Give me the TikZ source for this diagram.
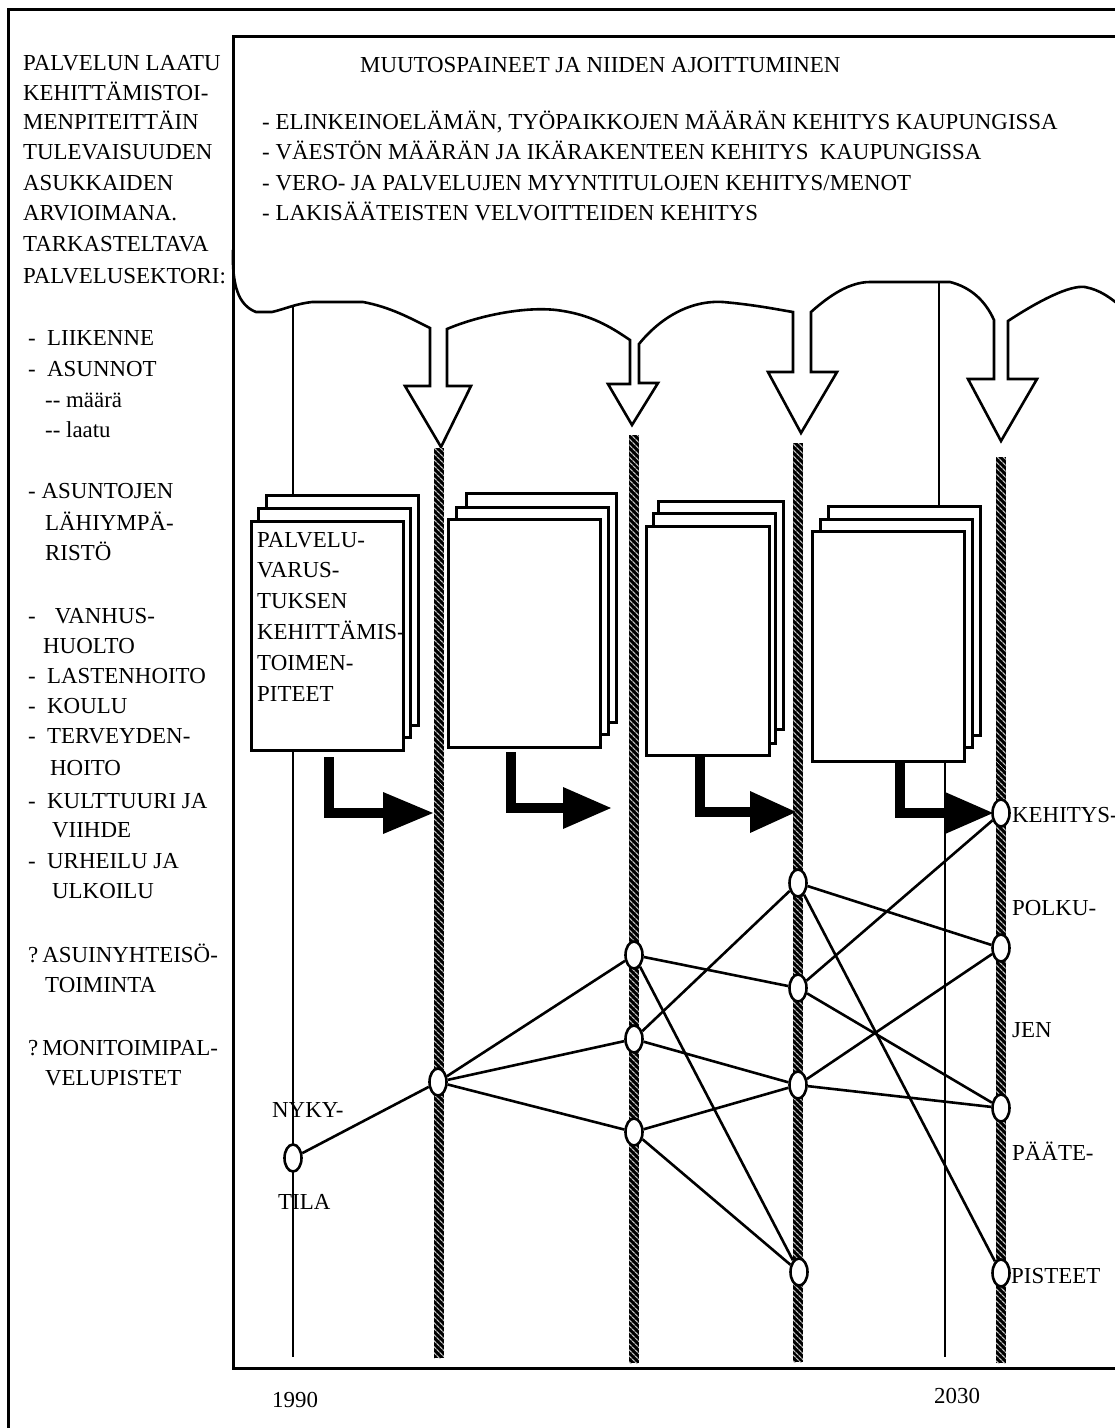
\documentclass[tikz,border=0pt]{standalone}
\usepackage{fontspec}
\setmainfont{Liberation Serif}
\usetikzlibrary{shapes.geometric,patterns.meta}
\begin{document}
\begin{tikzpicture}[x=1pt,y=-1pt,
  txt/.style={inner sep=0pt, anchor=base west, font=\fontsize{22.9}{27}\selectfont},
  frame/.style={line width=3pt},
  cloud/.style={line width=2.6pt, line join=miter},
  sheet/.style={draw, fill=white, line width=3pt},
  timeline/.style={line width=2.2pt},
  bar/.style={fill=black, postaction={pattern={Lines[angle=-45,distance=4pt,line width=1.3pt]}, pattern color=black!25}},
  state/.style={draw, fill=white, ellipse, line width=2.6pt, minimum width=17pt, minimum height=27pt, inner sep=0pt},
  link/.style={line width=2.6pt},
  flow/.style={line width=10pt, line join=miter},
]
\useasboundingbox (0,0) rectangle (1115,1428);

% outer and inner frames
\draw[frame] (1130,9) -- (8,9) -- (8,1440);
\draw[frame] (1130,36) -- (233,36) -- (233,1368) -- (1130,1368);

% time lines 1990 and 2030
\draw[timeline] (293,306) -- (293,1357);
\draw[timeline] (939,282) -- (939,506);
\draw[timeline] (945,761) -- (945,1357);

% the pressure cloud with its four hollow arrows
\draw[cloud] (233,250) .. controls (232,285) and (238,305) .. (256,312) -- (272,312)
  .. controls (285,309) and (295,304) .. (312,302) -- (363,302)
  .. controls (390,307) and (410,318) .. (430,328)
  -- (430,386) -- (405,386) -- (441,447) -- (471,386) -- (447,386) -- (447,329)
  .. controls (480,315) and (530,305) .. (563,311) .. controls (595,316) and (615,330) .. (630,340)
  -- (630,384) -- (608,384) -- (632,425) -- (658,383) -- (639,383) -- (639,344)
  .. controls (660,318) and (690,300) .. (723,302) .. controls (757,305) and (780,310) .. (793,312)
  -- (793,372) -- (768,372) -- (801,433) -- (837,372) -- (811,372) -- (811,312)
  .. controls (830,295) and (850,282) .. (870,282) -- (950,282)
  .. controls (970,287) and (985,300) .. (994,320)
  -- (994,379) -- (968,379) -- (1001,441) -- (1037,379) -- (1008,379) -- (1008,321)
  .. controls (1040,300) and (1070,285) .. (1085,287) .. controls (1100,290) and (1110,297) .. (1125,310);

% hatched period bars
\path[bar] (434,448) rectangle (444,1358);
\path[bar] (629,435) rectangle (639,1363);
\path[bar] (793,443) rectangle (803,1362);
\path[bar] (996,457) rectangle (1006,1363);

% stacks of action sheets
\draw[sheet] (266,495) rectangle (418,725);
\draw[sheet] (258,508) rectangle (410,737);
\draw[sheet] (251,521) rectangle (403,750);

\draw[sheet] (466,493) rectangle (616,722);
\draw[sheet] (456,507) rectangle (608,734);
\draw[sheet] (448,519) rectangle (600,747);

\draw[sheet] (658,501) rectangle (783,729);
\draw[sheet] (653,513) rectangle (775,743);
\draw[sheet] (646,526) rectangle (769,755);

\draw[sheet] (828,506) rectangle (980,735);
\draw[sheet] (820,519) rectangle (972,747);
\draw[sheet] (812,531) rectangle (964,761);

% black flow arrows from the sheets to the bars
\draw[flow] (329,757) |- (384,813);
\fill (383,792) -- (433,813) -- (383,834) -- cycle;
\draw[flow] (511,752) |- (564,808);
\fill (563,787) -- (611,808) -- (563,829) -- cycle;
\draw[flow] (700,756) |- (751,812);
\fill (750,791) -- (796,812) -- (750,833) -- cycle;
\draw[flow] (900,763) |- (946,813);
\fill (945,792) -- (993,813) -- (945,834) -- cycle;

% left column
\foreach \x/\y/\t [count=\i] in {
  23/70/PALVELUN LAATU, 23/100/KEHITTÄMISTOI-, 23/129/MENPITEITTÄIN,
  23/159/TULEVAISUUDEN, 23/190/ASUKKAIDEN, 23/220/ARVIOIMANA.,
  23/251/TARKASTELTAVA, 23/283/PALVELUSEKTORI:,
  28/345/{-\hspace{11.4pt}LIIKENNE}, 28/376/{-\hspace{11.4pt}ASUNNOT},
  45/407/{-{}- määrä}, 45/437/{-{}- laatu},
  28/498/{- ASUNTOJEN}, 45/530/LÄHIYMPÄ-, 45/560/RISTÖ,
  28/623/{-\hspace{19pt}VANHUS-}, 43/653/HUOLTO,
  28/683/{-\hspace{11.4pt}LASTENHOITO}, 28/713/{-\hspace{11.4pt}KOULU},
  28/743/{-\hspace{11.4pt}TERVEYDEN-}, 50/775/HOITO,
  28/808/{-\hspace{11.4pt}KULTTUURI JA}, 52/837/VIIHDE,
  28/868/{-\hspace{11.4pt}URHEILU JA}, 52/898/ULKOILU,
  28/962/{?\hspace{4pt}ASUINYHTEISÖ-}, 45/992/TOIMINTA,
  28/1055/{?\hspace{4pt}MONITOIMIPAL-}, 45/1085/VELUPISTET}
  \node[txt] (side\i) at (\x,\y) {\t};

% pressures text
\node[txt] (title) at (360,72) {MUUTOSPAINEET JA NIIDEN AJOITTUMINEN};
\node[txt] (p1) at (262,129) {- ELINKEINOELÄMÄN, TYÖPAIKKOJEN MÄÄRÄN KEHITYS KAUPUNGISSA};
\node[txt] (p2) at (262,159) {- VÄESTÖN MÄÄRÄN JA IKÄRAKENTEEN KEHITYS\hspace{11.4pt}KAUPUNGISSA};
\node[txt] (p3) at (262,190) {- VERO- JA PALVELUJEN MYYNTITULOJEN KEHITYS/MENOT};
\node[txt] (p4) at (262,220) {- LAKISÄÄTEISTEN VELVOITTEIDEN KEHITYS};

% text of the first sheet
\foreach \t [count=\i] in {PALVELU-, VARUS-, TUKSEN, KEHITTÄMIS-, TOIMEN-, PITEET}
  \node[txt] (sheet\i) at (257,{547+30.8*(\i-1)}) {\t};

% states on the bars
\node[state] (n0)  at (293,1158) {};
\node[state] (b1)  at (438,1082) {};
\node[state] (b2a) at (634,955) {};
\node[state] (b2b) at (634,1039) {};
\node[state] (b2c) at (634,1132) {};
\node[state] (b3a) at (798,883) {};
\node[state] (b3b) at (798,988) {};
\node[state] (b3c) at (798,1085) {};
\node[state] (b3d) at (799,1272) {};
\node[state] (b4a) at (1001,813) {};
\node[state] (b4b) at (1001,948) {};
\node[state] (b4d) at (1001,1108) {};
\node[state] (b4e) at (1001,1273) {};

% development paths
\draw[link] (n0) -- (b1);
\draw[link] (b1) -- (b2a);
\draw[link] (b1) -- (b2b);
\draw[link] (b1) -- (b2c);
\draw[link] (b2a) -- (b3b);
\draw[link] (b2a) -- (b3d);
\draw[link] (b2b) -- (b3a);
\draw[link] (b2b) -- (b3c);
\draw[link] (b2c) -- (b3c);
\draw[link] (b2c) -- (b3d);
\draw[link] (b3a) -- (b4b);
\draw[link] (b3a) -- (b4e);
\draw[link] (b3b) -- (b4a);
\draw[link] (b3b) -- (b4d);
\draw[link] (b3c) -- (b4b);
\draw[link] (b3c) -- (b4d);

% labels
\node[txt] (nyky) at (272,1117) {NYKY-};
\node[txt] (tila) at (278,1209) {TILA};
\node[txt] (k1) at (1012,822) {KEHITYS-};
\node[txt] (k2) at (1012,915) {POLKU-};
\node[txt] (k3) at (1012,1037) {JEN};
\node[txt] (k4) at (1012,1160) {PÄÄTE-};
\node[txt] (k5) at (1011,1283) {PISTEET};
\node[txt] (y1990) at (272,1407) {1990};
\node[txt] (y2030) at (934,1403) {2030};
\end{tikzpicture}
\end{document}
